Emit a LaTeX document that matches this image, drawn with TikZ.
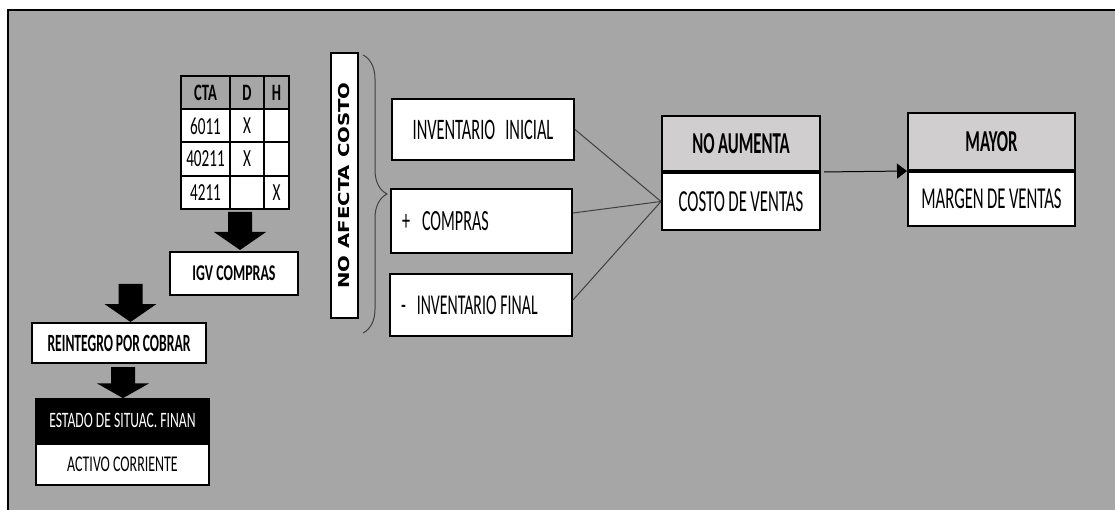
\documentclass[tikz,border=0pt]{standalone}
\usepackage{fontspec}
\newfontfamily\narrowfont[FakeStretch=0.55, WordSpace=0.9]{Carlito}
\newfontfamily\tabfont[FakeStretch=0.62]{Carlito}
\newfontfamily\widefont{DejaVu Sans}
\usepackage{tikz}
\usetikzlibrary{positioning, arrows.meta, decorations.pathreplacing}
\definecolor{panelgrey}{HTML}{A6A6A6}
\definecolor{headgrey}{HTML}{D0CECE}
\definecolor{linegrey}{HTML}{404040}
\newcommand{\fsz}[1]{\fontsize{#1}{#1}\selectfont}

\begin{document}
\begin{tikzpicture}[x=1pt, y=-1pt,
	box/.style={draw, line width=2pt, fill=white, inner sep=0pt, font=\narrowfont\fsz{29.3}},
	headbox/.style={box, fill=headgrey, font=\narrowfont\bfseries\fsz{30.4}},
	cell/.style={draw, line width=2pt, inner sep=0pt, anchor=north west, minimum height=33.25pt, font=\tabfont\fsz{24.5}},
	headcell/.style={cell, font=\tabfont\bfseries\fsz{23.5}},
	link/.style={draw=linegrey, line width=1pt},
	bigarrow/.pic={\fill (-12,0) -- (12,0) -- (12,20) -- (26,20) -- (0,38) -- (-26,20) -- (-12,20) -- cycle;}]
	\useasboundingbox (0,0) rectangle (1115,510);
	\fill[panelgrey] (7,9) rectangle (1115,510);
	\draw[line width=2pt] (7.5,510) -- (7.5,10) -- (1115,10);
	% tabla de cuentas
	\node[headcell, minimum width=49pt] (cta) at (180,75) {CTA};
	\node[headcell, minimum width=34pt] (debe) at (229,75) {D};
	\node[headcell, minimum width=25pt] (haber) at (263,75) {H};
	\foreach \num/\d/\h [count=\i] in {6011/X/{}, 40211/X/{}, 4211/{}/X} {
		\node[cell, fill=white, minimum width=49pt] (num\i) at (180,75+33.25*\i) {\num};
		\node[cell, fill=white, minimum width=34pt] (d\i) at (229,75+33.25*\i) {\d};
		\node[cell, fill=white, minimum width=25pt] (h\i) at (263,75+33.25*\i) {\h};
	}
	\pic at (240,212) {bigarrow};
	\node[box, minimum width=128pt, minimum height=43pt, font=\tabfont\bfseries\fsz{22.5}] (igv) at (234,273.5) {IGV COMPRAS};
	\pic at (130.5,284) {bigarrow};
	\node[box, minimum width=174pt, minimum height=40pt, font=\narrowfont\bfseries\fsz{24.8}] (reint) at (119,343) {REINTEGRO POR COBRAR};
	\pic[yscale=0.82] at (123,367) {bigarrow};
	\node[box, fill=black, text=white, minimum width=173pt, minimum height=43pt, font=\tabfont\fsz{22}] (estado) at (122.5,420.5) {ESTADO DE SITUAC. FINAN};
	\node[box, minimum width=173pt, minimum height=41pt, below=0pt of estado, font=\tabfont\fsz{22.5}] (activo) {ACTIVO CORRIENTE};
	% costo de ventas
	\node[box, minimum width=27pt, minimum height=265pt] (afecta) at (344.5,185.5) {\rotatebox{90}{\scalebox{1}[0.76]{\widefont\bfseries\fsz{19.7}NO AFECTA COSTO}}};
	\draw[link, decorate, decoration={brace, amplitude=24pt}] (363,55) -- (363,333);
	\node[box, minimum width=182pt, minimum height=61pt, font=\narrowfont\fsz{29.8}] (invini) at (483,129.5) {INVENTARIO\hspace{10pt}INICIAL};
	\node[box, minimum width=181pt, minimum height=64pt, text width=159pt, align=left] (compras) at (481.5,221) {+\hspace{12pt}COMPRAS};
	\node[box, minimum width=182pt, minimum height=62pt, text width=160pt, align=left, font=\narrowfont\fsz{28.7}] (invfin) at (481,305) {-\hspace{11pt}INVENTARIO\hspace{4pt}FINAL};
	\node[headbox, minimum width=158pt, minimum height=55pt] (noaum) at (741,143.5) {NO AUMENTA};
	\node[box, minimum width=158pt, minimum height=57pt, below=0pt of noaum, font=\narrowfont\fsz{30.6}] (costo) {COSTO DE VENTAS};
	\node[headbox, minimum width=167pt, minimum height=57pt] (mayor) at (991.5,141.5) {MAYOR};
	\node[box, minimum width=167pt, minimum height=54pt, below=0pt of mayor, font=\narrowfont\fsz{30.4}] (margen) {MARGEN DE VENTAS};
	\draw[link] (invini.east) -- (costo.west);
	\draw[link] ([yshift=8pt]compras.east) -- (costo.west);
	\draw[link] ([yshift=5pt]invfin.east) -- (costo.west);
	\draw[line width=1pt, shorten <=3pt, -{Triangle[length=10pt, width=15pt]}] (noaum.south east) -- (mayor.south west);
\end{tikzpicture}
\end{document}
